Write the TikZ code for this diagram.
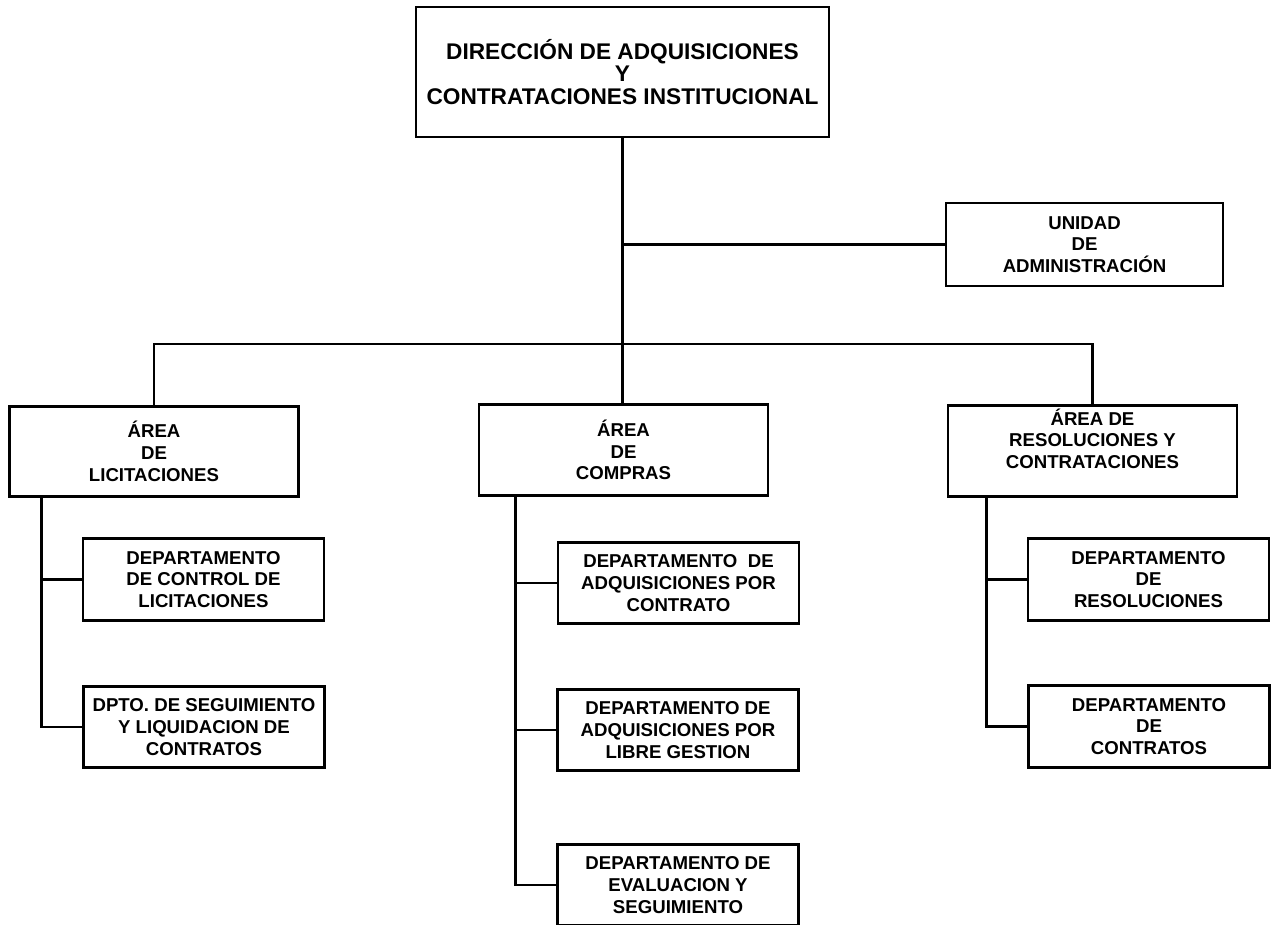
\documentclass[tikz,border=0pt]{standalone}
\usepackage{fontspec}
\setmainfont{Liberation Sans}

\begin{document}
\begin{tikzpicture}[x=0.02cm, y=-0.02cm,
    box/.style={rectangle, draw=black, line width=1.6pt, fill=white,
        align=center, inner sep=2pt, font=\fontsize{10.6}{12.4}\selectfont\bfseries},
    head/.style={box, minimum width=8.26cm, minimum height=2.6cm,
        font=\fontsize{12.9}{12.7}\selectfont\bfseries},
    area/.style={box, minimum width=5.78cm, minimum height=1.81cm},
    unit/.style={box, minimum width=5.54cm, minimum height=1.66cm},
    dept/.style={box, minimum width=4.82cm, minimum height=1.63cm},
    link/.style={line width=1.6pt, -}
]
    \useasboundingbox (0,0) rectangle (1274,924);
    \node[head] (dir) at (622.5,72) {DIRECCIÓN DE ADQUISICIONES\\Y\\CONTRATACIONES INSTITUCIONAL};
    \node[unit] (ua) at (1084.5,244.5) {UNIDAD\\DE\\ADMINISTRACIÓN};
    \node[area] (lic) at (154,451.5) {ÁREA\\DE\\LICITACIONES};
    \node[area] (com) at (623.5,450) {ÁREA\\DE\\COMPRAS};
    \node[area, text depth=14pt] (res) at (1092.5,451) {ÁREA DE\\RESOLUCIONES Y\\CONTRATACIONES};
    \node[dept] (ctl) at (203.5,579.5) {DEPARTAMENTO\\DE CONTROL DE\\LICITACIONES};
    \node[dept] (seg) at (204,727) {DPTO. DE SEGUIMIENTO\\Y LIQUIDACION DE\\CONTRATOS};
    \node[dept] (pcon) at (678.5,583) {DEPARTAMENTO~ DE\\ADQUISICIONES POR\\CONTRATO};
    \node[dept] (lib) at (678,730) {DEPARTAMENTO DE\\ADQUISICIONES POR\\LIBRE GESTION};
    \node[dept] (eva) at (678,885) {DEPARTAMENTO DE\\EVALUACION Y\\SEGUIMIENTO};
    \node[dept] (dres) at (1148.5,579.5) {DEPARTAMENTO\\DE\\RESOLUCIONES};
    \node[dept] (dcon) at (1149,726.5) {DEPARTAMENTO\\DE\\CONTRATOS};
    \coordinate (bus) at (623.5,344);
    % upper levels
    \draw[link] (dir.south) -- (dir.south |- com.north);
    \draw[link] (dir.south |- ua.west) -- (ua.west);
    \draw[link] (lic.north) |- (bus) -| (res.north);
    % departments
    \draw[link] ([xshift=0.66cm]lic.south west) |- (seg.west);
    \draw[link] ([xshift=0.66cm]lic.south west) |- (ctl.west);
    \draw[link] ([xshift=0.76cm]com.south west) |- (eva.west);
    \draw[link] ([xshift=0.76cm]com.south west) |- (pcon.west);
    \draw[link] ([xshift=0.76cm]com.south west) |- (lib.west);
    \draw[link] ([xshift=0.8cm]res.south west) |- (dcon.west);
    \draw[link] ([xshift=0.8cm]res.south west) |- (dres.west);
\end{tikzpicture}
\end{document}
